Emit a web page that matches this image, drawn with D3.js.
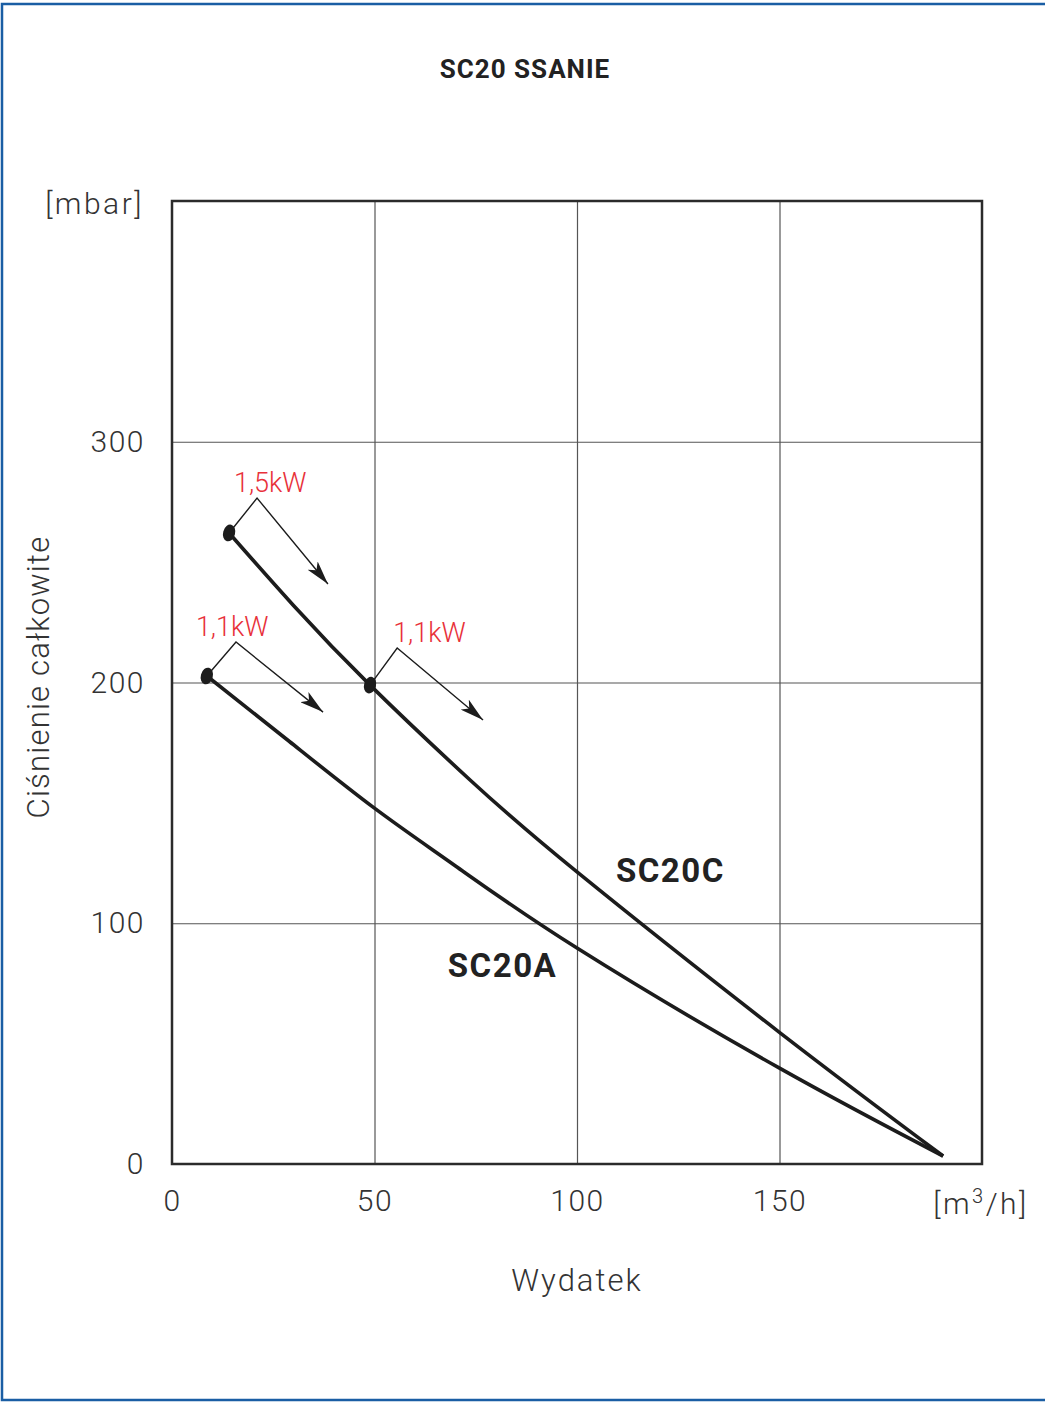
<!DOCTYPE html>
<html>
<head>
<meta charset="utf-8">
<script src="https://cdn.jsdelivr.net/npm/d3@7"></script>
<style>
  html, body { margin: 0; padding: 0; background: #fff; }
  svg { display: block; }
  text { font-family: Roboto, "Noto Sans", "DejaVu Sans", sans-serif; }
</style>
</head>
<body>
<svg id="chart" width="1045" height="1415"></svg>
<script>
// ---------- data ----------
const title = "SC20 SSANIE";
const xTicks = [0, 50, 100, 150];
const yTicks = [0, 100, 200, 300];
const xDomain = [0, 200];
const yDomain = [0, 400];
const xUnit = "[m", xUnitSup = "3", xUnitEnd = "/h]";
const yUnit = "[mbar]";
const xTitle = "Wydatek";
const yTitle = "Ciśnienie całkowite";

const seriesNames = ["SC20C", "SC20A"];
const sc20cX = [14.1, 30, 48.9, 73.6, 100, 149.9, 190.4];
const sc20cY = [262.1, 232, 198.9, 159.5, 121.3, 54.8, 3.3];
const sc20aX = [8.6, 29, 49.9, 70, 100, 149.9, 190.4];
const sc20aY = [202.7, 175.5, 147.9, 123.8, 89.7, 39.9, 3.3];
const seriesLabelX = [109.6, 68.1];
const seriesLabelY = [117.1, 77.7];

// power annotations: marker point, bend point, arrow tip, label position
const annLabels = ["1,5kW", "1,1kW", "1,1kW"];
const annMarkX = [14.1, 8.6, 48.9];
const annMarkY = [262.1, 202.7, 198.9];
const annBendX = [21.0, 15.8, 55.6];
const annBendY = [276.6, 216.8, 214.3];
const annTipX  = [38.5, 37.3, 76.8];
const annTipY  = [240.9, 187.7, 184.4];
const annTextX = [15.3, 5.9, 54.6];
const annTextY = [279.1, 219.3, 216.8];

// ---------- layout ----------
const svg = d3.select("#chart");
const L = 172, R = 982, T = 201, B = 1164;
const x = d3.scaleLinear().domain(xDomain).range([L, R]);
const y = d3.scaleLinear().domain(yDomain).range([B, T]);
const txt = "#333";

// page frame
svg.append("rect").attr("x", 2).attr("y", 4).attr("width", 1060).attr("height", 1396)
  .attr("fill", "none").attr("stroke", "#1a5ea4").attr("stroke-width", 2.5);

// title
svg.append("text").attr("x", 525).attr("y", 78).attr("text-anchor", "middle")
  .attr("font-size", 26).attr("font-weight", "bold").attr("letter-spacing", 1)
  .attr("fill", "#222").text(title);

// grid lines
const gx = svg.append("g").attr("transform", `translate(0,${B})`)
  .call(d3.axisBottom(x).tickValues(xTicks.filter(v => v > 0)).tickSize(-(B - T)).tickFormat(""));
gx.select(".domain").remove();
gx.selectAll("line").attr("stroke", "#555").attr("stroke-width", 1.2);
const gy = svg.append("g").attr("transform", `translate(${L},0)`)
  .call(d3.axisLeft(y).tickValues(yTicks.filter(v => v > 0)).tickSize(-(R - L)).tickFormat(""));
gy.select(".domain").remove();
gy.selectAll("line").attr("stroke", "#555").attr("stroke-width", 1.2);

// frame
svg.append("rect").attr("x", L).attr("y", T).attr("width", R - L).attr("height", B - T)
  .attr("fill", "none").attr("stroke", "#2b2b2b").attr("stroke-width", 2.5);

// tick labels
const ax = svg.append("g").attr("transform", `translate(0,${B})`)
  .call(d3.axisBottom(x).tickValues(xTicks).tickSize(0).tickPadding(26).tickFormat(d3.format("d")));
ax.select(".domain").remove();
ax.selectAll("text").attr("font-size", 30).attr("fill", txt).attr("letter-spacing", 1.5)
  .attr("font-family", "Roboto, sans-serif").attr("font-weight", 300);

const ay = svg.append("g").attr("transform", `translate(${L},0)`)
  .call(d3.axisLeft(y).tickValues(yTicks).tickSize(0).tickPadding(27).tickFormat(d3.format("d")));
ay.select(".domain").remove();
ay.selectAll("text").attr("font-size", 30).attr("fill", txt).attr("letter-spacing", 1.5)
  .attr("font-family", "Roboto, sans-serif").attr("font-weight", 300);

// units
svg.append("text").attr("x", 144).attr("y", 214).attr("text-anchor", "end")
  .attr("font-size", 30).attr("font-weight", 300).attr("letter-spacing", 2.5)
  .attr("fill", txt).text(yUnit);
const xu = svg.append("text").attr("x", 981).attr("y", 1214).attr("text-anchor", "middle")
  .attr("font-size", 30).attr("font-weight", 300).attr("letter-spacing", 2.5).attr("fill", txt);
xu.append("tspan").text(xUnit);
xu.append("tspan").attr("font-size", 20).attr("dy", -11).text(xUnitSup);
xu.append("tspan").attr("dy", 11).text(xUnitEnd);

// axis titles
svg.append("text").attr("x", x(100)).attr("y", 1291).attr("text-anchor", "middle")
  .attr("font-size", 31).attr("font-weight", 300).attr("letter-spacing", 2)
  .attr("fill", txt).text(xTitle);
svg.append("text").attr("transform", `translate(49,677) rotate(-90)`).attr("text-anchor", "middle")
  .attr("font-size", 31).attr("font-weight", 300).attr("letter-spacing", 1.2)
  .attr("fill", txt).text(yTitle);

// curves
const line = d3.line().x(d => x(d[0])).y(d => y(d[1])).curve(d3.curveNatural);
const seriesData = [d3.zip(sc20cX, sc20cY), d3.zip(sc20aX, sc20aY)];
svg.append("g").selectAll("path").data(seriesData).join("path")
  .attr("d", line).attr("fill", "none").attr("stroke", "#1c1c1c")
  .attr("stroke-width", 3.6).attr("stroke-linejoin", "round");

// series labels
svg.append("g").selectAll("text").data(seriesNames).join("text")
  .attr("x", (d, i) => x(seriesLabelX[i])).attr("y", (d, i) => y(seriesLabelY[i]))
  .attr("font-size", 33).attr("font-weight", "bold").attr("letter-spacing", 1.5)
  .attr("fill", "#222").text(d => d);

// annotations
const defs = svg.append("defs");
defs.append("marker").attr("id", "arr").attr("viewBox", "0 0 24 13")
  .attr("refX", 24).attr("refY", 6.5).attr("markerWidth", 24).attr("markerHeight", 13)
  .attr("markerUnits", "userSpaceOnUse").attr("orient", "auto")
  .append("path").attr("d", "M0,0 L24,6.5 L0,13 L6,6.5 Z").attr("fill", "#1c1c1c");

const ann = annLabels.map((t, i) => ({
  t, m: [annMarkX[i], annMarkY[i]], b: [annBendX[i], annBendY[i]],
  p: [annTipX[i], annTipY[i]], l: [annTextX[i], annTextY[i]]
}));
const ag = svg.append("g");
ag.selectAll("path").data(ann).join("path")
  .attr("d", d => `M${x(d.m[0])},${y(d.m[1])} L${x(d.b[0])},${y(d.b[1])} L${x(d.p[0])},${y(d.p[1])}`)
  .attr("fill", "none").attr("stroke", "#1c1c1c").attr("stroke-width", 1.4)
  .attr("marker-end", "url(#arr)");
ag.selectAll("ellipse").data(ann).join("ellipse")
  .attr("cx", d => x(d.m[0])).attr("cy", d => y(d.m[1]))
  .attr("rx", 6).attr("ry", 8.5)
  .attr("transform", d => `rotate(15,${x(d.m[0])},${y(d.m[1])})`)
  .attr("fill", "#1c1c1c");
ag.selectAll("text").data(ann).join("text")
  .attr("x", d => x(d.l[0])).attr("y", d => y(d.l[1]))
  .attr("font-size", 27).attr("font-weight", 300).attr("fill", "#e8313a").text(d => d.t);
</script>
</body>
</html>
